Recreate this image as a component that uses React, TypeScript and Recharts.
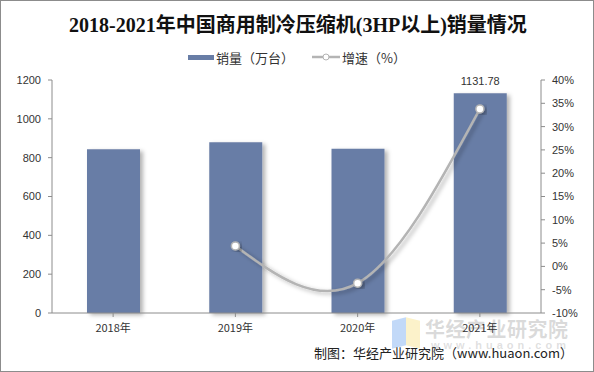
import {
  ComposedChart,
  Bar,
  Line,
  XAxis,
  YAxis,
  Legend,
} from "recharts";

const years = ["2018年", "2019年", "2020年", "2021年"];
const sales = [843, 880, 846, 1131.78];
const growth: (number | null)[] = [null, 4.4, -3.6, 33.8];
const leftTicks = [0, 200, 400, 600, 800, 1000, 1200];
const rightTicks = [-10, -5, 0, 5, 10, 15, 20, 25, 30, 35, 40];

const data = years.map((year, i) => ({ year, sales: sales[i], growth: growth[i] }));

const BAR = "#687da6";
const LINE = "#b4b4b4";
const FONT = "'Liberation Sans', Arial, 'Noto Sans CJK SC', sans-serif";
const CJK = "'Noto Sans CJK SC', sans-serif";

function LegendContent() {
  return (
    <div
      style={{
        display: "flex",
        justifyContent: "center",
        alignItems: "center",
        fontFamily: CJK,
        fontSize: 13,
        color: "#333",
        gap: 18,
        height: 18,
      }}
    >
      <span style={{ display: "flex", alignItems: "center" }}>
        <span style={{ width: 26, height: 5, background: BAR, marginRight: 2 }} />
        销量（万台）
      </span>
      <span style={{ display: "flex", alignItems: "center" }}>
        <svg width={28} height={10} style={{ marginRight: 2 }}>
          <line x1={0} y1={5} x2={28} y2={5} stroke={LINE} strokeWidth={2.5} />
          <circle cx={14} cy={5} r={3} fill="#fff" stroke={LINE} strokeWidth={1} />
        </svg>
        增速（%）
      </span>
    </div>
  );
}

function TopLabel(props: any) {
  const { x, y, width, index, value } = props;
  if (index !== 3) return null;
  return (
    <text x={x + width / 2} y={y - 8} textAnchor="middle" fontSize={11} fontFamily={FONT} fill="#333">
      {value}
    </text>
  );
}

export default function App() {
  return (
    <div
      style={{
        position: "relative",
        width: 594,
        height: 372,
        boxSizing: "border-box",
        border: "1px solid #8c8c8c",
        background: "#fff",
      }}
    >
      <style>{`body{margin:0}`}</style>
      <div
        style={{
          position: "absolute",
          top: 8,
          left: 0,
          width: 594,
          textAlign: "center",
          fontFamily: "'Liberation Serif', 'Noto Sans CJK SC', serif",
          fontWeight: "bold",
          fontSize: 20,
          color: "#111",
        }}
      >
        2018-2021年中国商用制冷压缩机(3HP以上)销量情况
      </div>
      <div
        style={{
          position: "absolute",
          left: 391,
          top: 318,
          width: 14,
          height: 28,
          background: "rgba(120,170,240,0.45)",
          transform: "skewY(-14deg)",
        }}
      />
      <div
        style={{
          position: "absolute",
          left: 405,
          top: 318,
          width: 14,
          height: 28,
          background: "rgba(250,230,150,0.5)",
          transform: "skewY(14deg)",
        }}
      />
      <div
        style={{
          position: "absolute",
          left: 424,
          top: 313,
          fontFamily: CJK,
          fontWeight: "bold",
          fontSize: 20,
          color: "rgba(150,150,150,0.35)",
          letterSpacing: 0.5,
        }}
      >
        华经产业研究院
      </div>
      <div
        style={{
          position: "absolute",
          left: 430,
          top: 338,
          fontFamily: FONT,
          fontWeight: "bold",
          fontSize: 11,
          color: "rgba(150,150,150,0.3)",
          letterSpacing: 4,
        }}
      >
        www.huaon.com
      </div>
      <div
        style={{
          position: "absolute",
          right: 20,
          top: 342,
          fontFamily: CJK,
          fontSize: 13,
          color: "#222",
        }}
      >
        制图：华经产业研究院（www.huaon.com）
      </div>
      <div style={{ position: "absolute", left: -1, top: -1 }}>
        <ComposedChart
          width={594}
          height={372}
          data={data}
          margin={{ top: 62, right: 0, left: 0, bottom: 29 }}
        >
          <defs>
            <filter id="shadow" x="-20%" y="-10%" width="150%" height="130%">
              <feDropShadow dx={3} dy={2} stdDeviation={2} floodColor="#000" floodOpacity={0.3} />
            </filter>
          </defs>
          <Legend verticalAlign="top" content={<LegendContent />} wrapperStyle={{ top: 48 }} />
          <XAxis
            dataKey="year"
            height={30}
            axisLine={{ stroke: "#8c8c8c" }}
            tickLine={{ stroke: "#8c8c8c" }}
            tick={{ fontSize: 11, fill: "#333", fontFamily: CJK }}
            tickSize={4}
            tickMargin={7}
            interval={0}
          />
          <YAxis
            yAxisId="left"
            width={52}
            domain={[0, 1200]}
            ticks={leftTicks}
            axisLine={{ stroke: "#8c8c8c" }}
            tickLine={{ stroke: "#8c8c8c" }}
            tickSize={4}
            tickMargin={7}
            tick={{ fontSize: 11, fill: "#333", fontFamily: FONT }}
          />
          <YAxis
            yAxisId="right"
            orientation="right"
            width={53}
            domain={[-10, 40]}
            ticks={rightTicks}
            tickFormatter={(v: number) => `${v}%`}
            axisLine={{ stroke: "#8c8c8c" }}
            tickLine={{ stroke: "#8c8c8c" }}
            tickSize={4}
            tickMargin={7}
            tick={{ fontSize: 11, fill: "#333", fontFamily: FONT }}
          />
          <Bar
            yAxisId="left"
            dataKey="sales"
            fill={BAR}
            barSize={53}
            filter="url(#shadow)"
            label={<TopLabel />}
            isAnimationActive={false}
          />
          <Line
            yAxisId="right"
            dataKey="growth"
            type="natural"
            stroke={LINE}
            strokeWidth={2.5}
            filter="url(#shadow)"
            dot={{ r: 4, fill: "#fff", stroke: LINE, strokeWidth: 1.5 }}
            connectNulls
            isAnimationActive={false}
          />
        </ComposedChart>
      </div>
    </div>
  );
}
